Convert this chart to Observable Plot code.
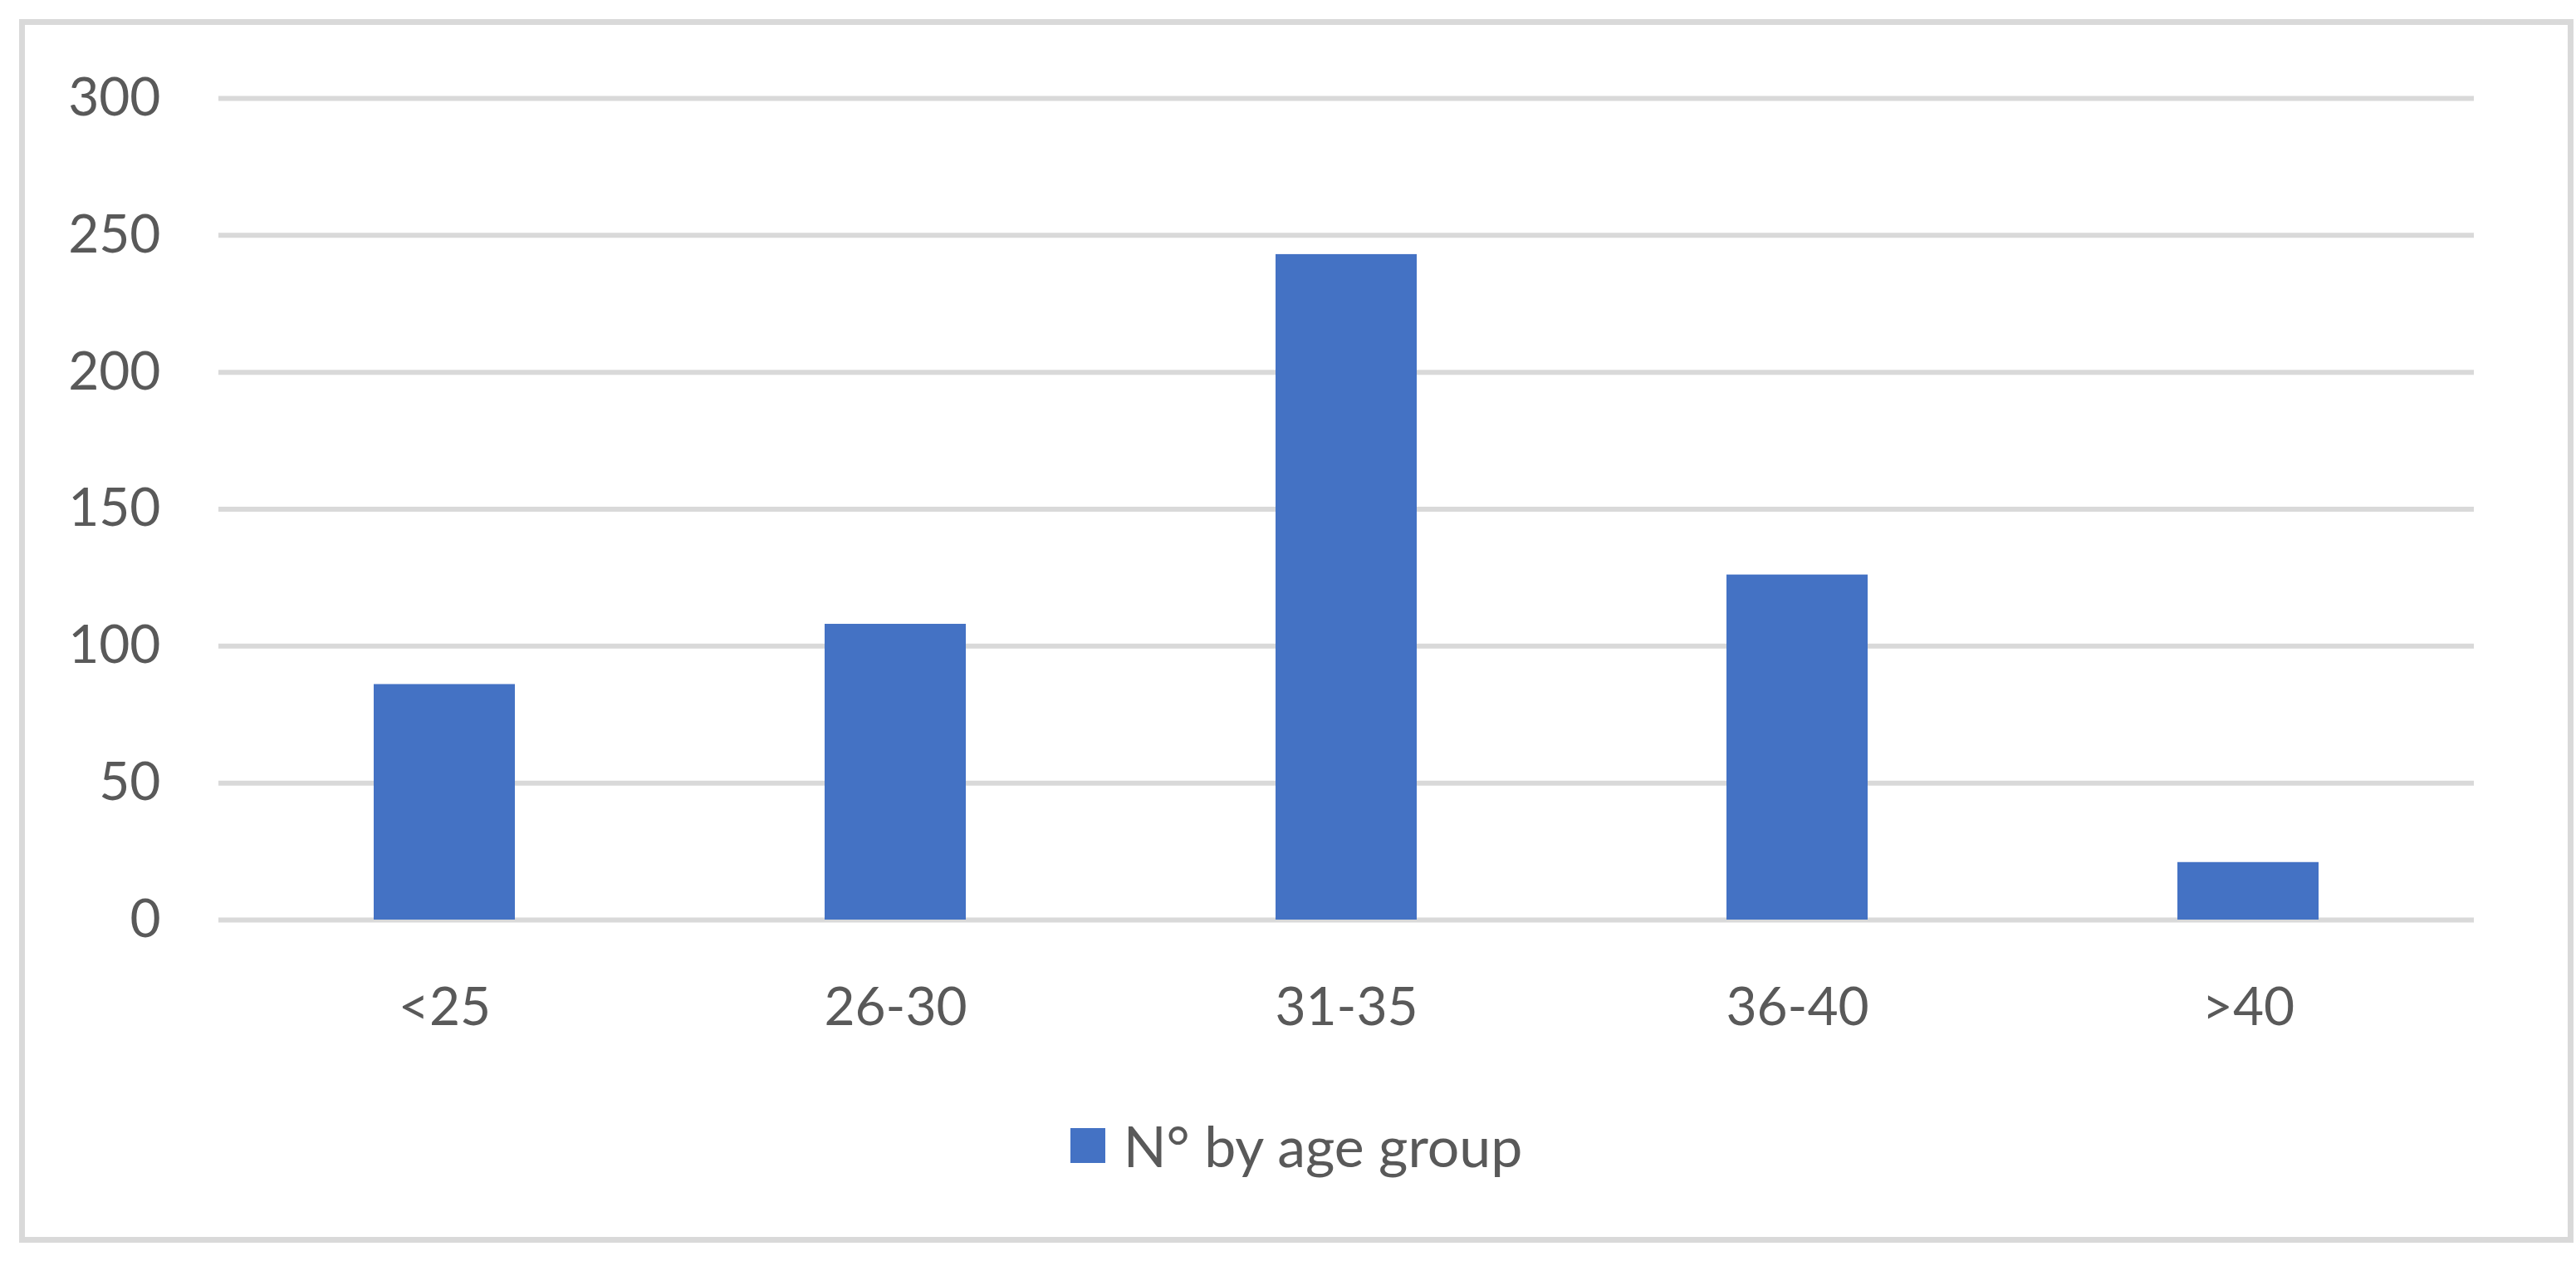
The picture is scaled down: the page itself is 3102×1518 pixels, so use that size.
<!DOCTYPE html>
<html>
<head>
<meta charset="utf-8">
<script src="https://cdn.jsdelivr.net/npm/d3@7"></script>
<script src="https://cdn.jsdelivr.net/npm/@observablehq/plot@0.6"></script>
<style>
  html, body { margin: 0; padding: 0; background: #fff; }
  body { width: 3102px; height: 1518px; position: relative; overflow: hidden; font-family: Lato, "Open Sans", sans-serif; }
  #frame { position: absolute; left: 23px; top: 23px; width: 3076px; height: 1473px; box-sizing: border-box; border: 7px solid #d9d9d9; }
  #chart { position: absolute; left: 0; top: 0; }
  #legend { position: absolute; left: 23px; top: 1338px; width: 3076px; display: flex; justify-content: center; align-items: center; font-size: 68px; color: #595959; }
  #legend .sw { width: 42px; height: 42px; background: #4472c4; margin-right: 22px; }
</style>
</head>
<body>
<div id="frame"></div>
<div id="chart"></div>
<div id="legend"></div>
<script>
const categories = ["<25", "26-30", "31-35", "36-40", ">40"];
const values = [86, 108, 243, 126, 21];
const yTicks = [0, 50, 100, 150, 200, 250, 300];
const seriesName = "N° by age group";
const barColor = "#4472c4";

const data = categories.map((c, i) => ({category: c, value: values[i]}));

const chart = Plot.plot({
  width: 3102,
  height: 1260,
  marginLeft: 263,
  marginRight: 123,
  marginTop: 118,
  marginBottom: 153,
  style: {fontFamily: "Lato, 'Open Sans', sans-serif", fontSize: "64px", color: "#595959", background: "transparent"},
  x: {domain: categories, paddingInner: 0.687, paddingOuter: 0.3435, label: null},
  y: {domain: [0, 300], label: null},
  marks: [
    Plot.ruleY(yTicks, {stroke: "#d9d9d9", strokeWidth: 6}),
    Plot.barY(data, {x: "category", y: "value", fill: barColor}),
    Plot.axisY({ticks: yTicks, tickSize: 0, tickPadding: 70, label: null, fill: "#595959"}),
    Plot.axisX({tickSize: 0, tickPadding: 81, label: null, fill: "#595959"})
  ]
});
document.getElementById("chart").appendChild(chart);

const legend = document.getElementById("legend");
const sw = document.createElement("div");
sw.className = "sw";
const lt = document.createElement("span");
lt.textContent = seriesName;
legend.appendChild(sw);
legend.appendChild(lt);
</script>
</body>
</html>
